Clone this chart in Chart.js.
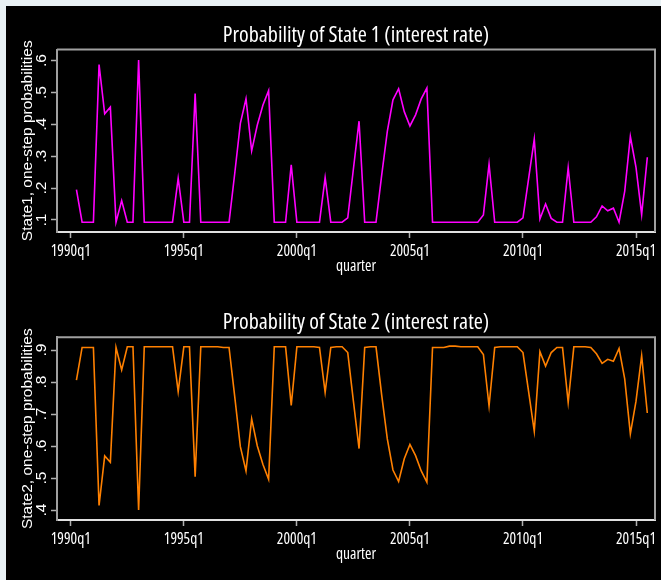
<!DOCTYPE html>
<html>
<head>
<meta charset="utf-8">
<script src="https://cdn.jsdelivr.net/npm/chart.js@4.4.1/dist/chart.umd.min.js"></script>
<style>
  html, body { margin: 0; padding: 0; background: #e9f1f4; }
  #stage { position: relative; width: 661px; height: 580px; overflow: hidden; }
  #backdrop { position: absolute; left: 6px; top: 6px; width: 655px; height: 574px; background: #000; }
  .panel { position: absolute; left: 0; width: 661px; height: 290px; }
  canvas { display: block; }
</style>
</head>
<body>
<div id="stage">
  <div id="backdrop"></div>
  <div class="panel" style="top:0px"><canvas id="state1" width="661" height="290"></canvas></div>
  <div class="panel" style="top:290px"><canvas id="state2" width="661" height="290"></canvas></div>
</div>
<script>
// Quarterly one-step probabilities, 1990q2 .. 2015q3
const quarters = [];
for (let i = 1; i <= 102; i++) quarters.push((1990 + Math.floor(i / 4)) + 'q' + (i % 4 + 1));

const prob1 = [
  0.195, 0.093, 0.093, 0.093, 0.588, 0.433, 0.454, 0.093, 0.161, 0.093,
  0.093, 0.602, 0.093, 0.093, 0.093, 0.093, 0.093, 0.093, 0.231, 0.093,
  0.093, 0.497, 0.093, 0.093, 0.093, 0.093, 0.093, 0.093, 0.245, 0.403,
  0.480, 0.317, 0.398, 0.461, 0.506, 0.093, 0.093, 0.093, 0.273, 0.093,
  0.093, 0.093, 0.093, 0.093, 0.233, 0.093, 0.093, 0.093, 0.107, 0.260,
  0.410, 0.093, 0.093, 0.093, 0.240, 0.378, 0.477, 0.512, 0.440, 0.395,
  0.430, 0.480, 0.514, 0.093, 0.093, 0.093, 0.093, 0.093, 0.093, 0.093,
  0.093, 0.093, 0.116, 0.275, 0.093, 0.093, 0.093, 0.093, 0.093, 0.107,
  0.230, 0.354, 0.103, 0.150, 0.105, 0.093, 0.093, 0.264, 0.093, 0.093,
  0.093, 0.093, 0.110, 0.144, 0.129, 0.137, 0.093, 0.190, 0.362, 0.265,
  0.117, 0.297
];

const prob2 = [
  0.806, 0.908, 0.908, 0.908, 0.414, 0.569, 0.549, 0.908, 0.838, 0.910,
  0.910, 0.400, 0.910, 0.910, 0.910, 0.910, 0.910, 0.910, 0.770, 0.910,
  0.910, 0.504, 0.910, 0.910, 0.910, 0.910, 0.908, 0.908, 0.755, 0.598,
  0.522, 0.685, 0.600, 0.542, 0.496, 0.910, 0.910, 0.910, 0.727, 0.910,
  0.910, 0.910, 0.910, 0.908, 0.768, 0.908, 0.910, 0.910, 0.892, 0.740,
  0.592, 0.908, 0.910, 0.910, 0.760, 0.622, 0.525, 0.489, 0.560, 0.605,
  0.570, 0.522, 0.487, 0.908, 0.908, 0.908, 0.912, 0.912, 0.910, 0.910,
  0.910, 0.910, 0.886, 0.725, 0.908, 0.910, 0.910, 0.910, 0.910, 0.892,
  0.770, 0.646, 0.895, 0.850, 0.892, 0.908, 0.908, 0.736, 0.910, 0.910,
  0.910, 0.908, 0.888, 0.858, 0.871, 0.865, 0.905, 0.810, 0.638, 0.740,
  0.882, 0.703
];

const xTickLabels = ['1990q1', '1995q1', '2000q1', '2005q1', '2010q1', '2015q1'];
const yTicks1 = [0.1, 0.2, 0.3, 0.4, 0.5, 0.6];
const yLabels1 = ['.1', '.2', '.3', '.4', '.5', '.6'];
const yTicks2 = [0.4, 0.5, 0.6, 0.7, 0.8, 0.9];
const yLabels2 = ['.4', '.5', '.6', '.7', '.8', '.9'];

// quarter string -> number of quarters since 1990q1
function qIndex(q) {
  const [y, n] = q.split('q');
  return (parseInt(y, 10) - 1990) * 4 + parseInt(n, 10) - 1;
}

// condensed face for titles and the time axis; plain sans for the y axis
const NARROW = { family: "'Open Sans', sans-serif", weight: 'condensed' };
const REGULAR = { family: "'Liberation Sans', Arial, sans-serif", weight: 'normal' };

// plot-region outline (top and right sides; left/bottom come from the axis borders)
const frame = {
  id: 'frame',
  beforeDatasetsDraw(chart) {
    const { ctx, chartArea: a } = chart;
    ctx.save();
    ctx.strokeStyle = '#a0a0a0';
    ctx.lineWidth = 2;
    ctx.beginPath();
    ctx.moveTo(a.left, a.top);
    ctx.lineTo(a.right, a.top);
    ctx.lineTo(a.right, a.bottom);
    ctx.stroke();
    ctx.restore();
  }
};

function panel(id, o) {
  new Chart(document.getElementById(id), {
    type: 'line',
    data: {
      datasets: [{
        data: quarters.map((q, k) => ({ x: qIndex(q), y: o.values[k] })),
        borderColor: o.color,
        borderWidth: 1.6,
        pointRadius: 0,
        tension: 0,
        fill: false
      }]
    },
    options: {
      responsive: false,
      animation: false,
      devicePixelRatio: 1,
      layout: { padding: { left: 6, right: 6, top: 0, bottom: 0 } },
      plugins: {
        legend: { display: false },
        tooltip: { enabled: false },
        title: {
          display: true,
          fullSize: false,
          text: o.title,
          color: '#ffffff',
          font: { ...NARROW, size: 22 },
          padding: o.titlePad
        }
      },
      scales: {
        x: {
          type: 'linear',
          min: -2.44,
          max: 103.36,
          afterBuildTicks: s => { s.ticks = xTickLabels.map(t => ({ value: qIndex(t) })); },
          afterFit: s => { s.height = o.xHeight; },
          ticks: {
            color: '#ffffff',
            font: { ...NARROW, size: 15.5 },
            padding: o.xTickPad,
            maxRotation: 0,
            callback: v => xTickLabels.find(t => qIndex(t) === v)
          },
          grid: { display: true, drawOnChartArea: false, drawTicks: true, tickLength: 6, tickColor: '#b0b0b0', tickWidth: 1.5 },
          border: { display: true, color: '#e0e0e0', width: 2 },
          title: {
            display: true,
            text: 'quarter',
            color: '#ffffff',
            font: { ...NARROW, size: 15.5 },
            padding: { top: 0, bottom: o.xTitlePad }
          }
        },
        y: {
          type: 'linear',
          min: o.yMin,
          max: o.yMax,
          afterBuildTicks: s => { s.ticks = o.yTicks.map(v => ({ value: v })); },
          afterFit: s => { s.width = 51; },
          ticks: {
            color: '#ffffff',
            font: { ...REGULAR, size: 15.5 },
            minRotation: 90,
            maxRotation: 90,
            crossAlign: 'center',
            padding: 3,
            callback: v => o.yLabels[o.yTicks.findIndex(t => Math.abs(t - v) < 1e-9)]
          },
          grid: { display: true, drawOnChartArea: false, drawTicks: true, tickLength: 6, tickColor: '#b0b0b0', tickWidth: 1.5 },
          border: { display: true, color: '#a0a0a0', width: 2 },
          title: {
            display: true,
            text: o.yTitle,
            color: '#ffffff',
            font: { ...REGULAR, size: 15.5 },
            padding: { top: 12.7, bottom: 0 }
          }
        }
      }
    },
    plugins: [frame]
  });
}

panel('state1', {
  title: 'Probability of State 1 (interest rate)',
  yTitle: 'State1, one-step probabilities',
  values: prob1,
  color: '#ff00ff',
  yMin: 0.0623, yMax: 0.635,
  yTicks: yTicks1, yLabels: yLabels1,
  titlePad: { top: 22.3, bottom: 0.8 },
  xHeight: 58, xTickPad: 4.4, xTitlePad: 14
});

panel('state2', {
  title: 'Probability of State 2 (interest rate)',
  yTitle: 'State2, one-step probabilities',
  values: prob2,
  color: '#ff8000',
  yMin: 0.36875, yMax: 0.9397,
  yTicks: yTicks2, yLabels: yLabels2,
  titlePad: { top: 19.8, bottom: 1.1 },
  xHeight: 60, xTickPad: 4.7, xTitlePad: 15.7
});
</script>
</body>
</html>
